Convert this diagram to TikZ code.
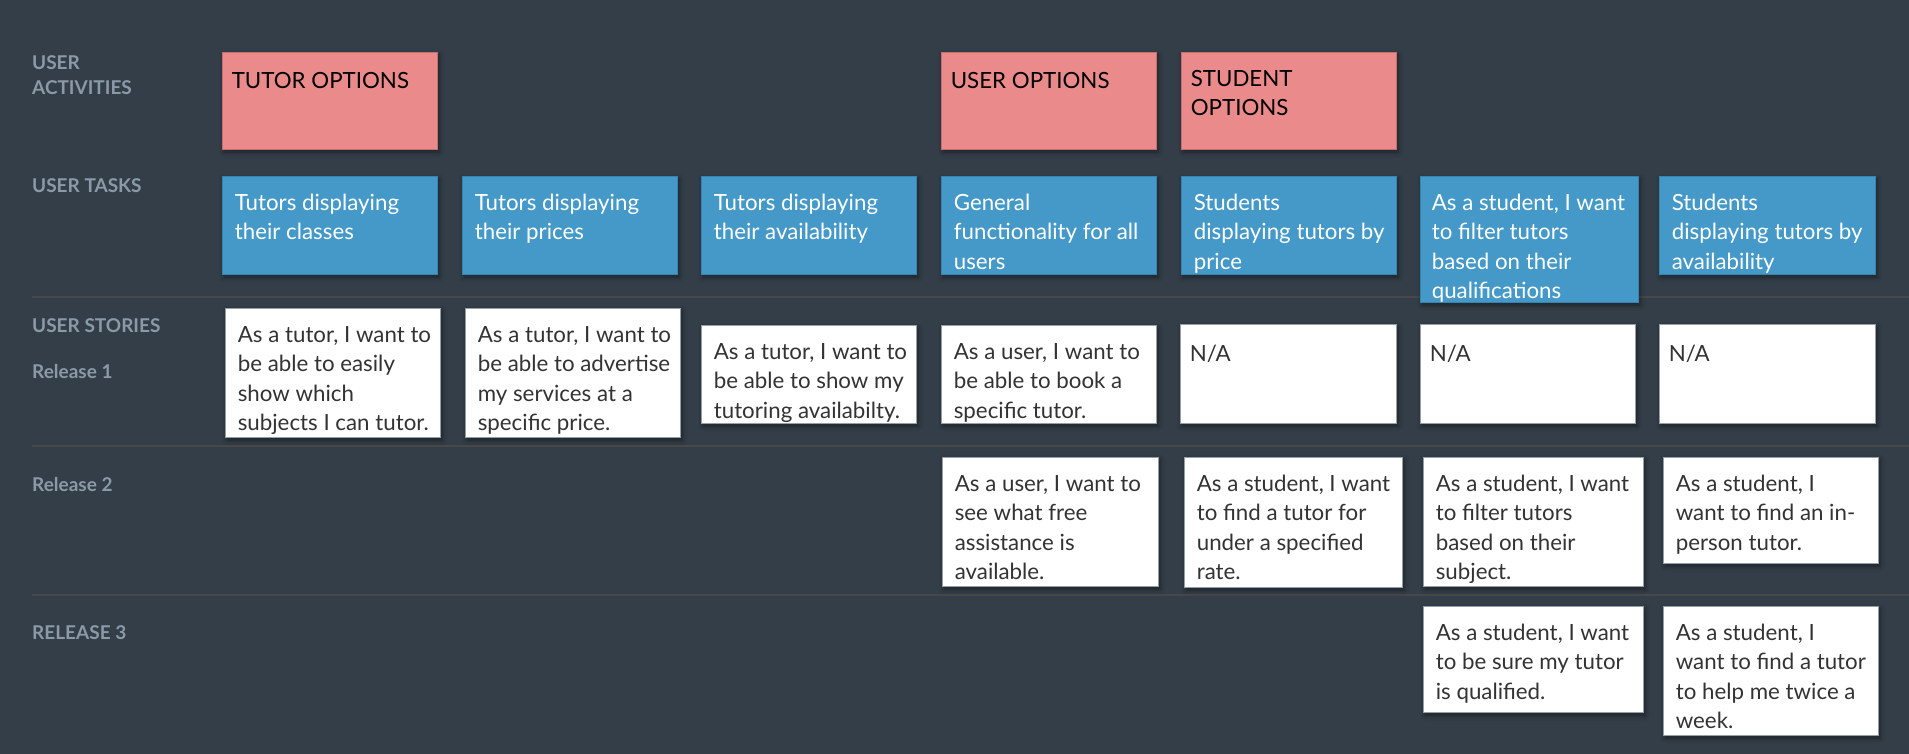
\documentclass[tikz,border=0pt]{standalone}
\usepackage{fontspec}
\setmainfont{Lato}
\usetikzlibrary{fit,shadows.blur}

\definecolor{boardbg}{RGB}{52,62,72}
\definecolor{rowline}{RGB}{74,71,71}
\definecolor{lanelabel}{RGB}{139,154,167}
\definecolor{activity}{RGB}{234,138,138}
\definecolor{activityedge}{RGB}{196,110,112}
\definecolor{task}{RGB}{68,153,201}
\definecolor{taskedge}{RGB}{56,132,176}
\definecolor{storyedge}{RGB}{150,158,166}
\definecolor{storytext}{RGB}{51,51,51}

\tikzset{
  x=1pt, y=-1pt,
  card/.style={rectangle, inner sep=0pt, line width=0.8pt,
    blur shadow={shadow xshift=2pt, shadow yshift=-3pt,
      shadow blur radius=5pt, shadow opacity=45}},
  activitycard/.style={card, fill=activity, draw=activityedge},
  taskcard/.style={card, fill=task, draw=taskedge},
  storycard/.style={card, fill=white, draw=storyedge},
  cardtext/.style={anchor=base west, inner sep=0pt,
    font=\fontsize{22.3}{29.3}\selectfont},
  lanetitle/.style={anchor=base west, inner sep=0pt,
    text=lanelabel, font=\fontsize{19}{25}\selectfont\bfseries},
  divider/.style={draw=rowline, line width=2.6pt},
}

% lines of text hanging from the baseline of the first one
\newcommand\textlines[1]{\begin{tabular}[t]{@{}l@{}}#1\end{tabular}}

% card: style, name, top-left, bottom-right, left pad, first baseline, text colour, text
\newcommand\mapcard[8]{%
  \node[#1, fit={#3 #4}] (#2) {};
  \node[cardtext, text=#7] (#2-txt) at ([shift={(#5,#6)}]#2.north west) {\textlines{#8}};
}

\begin{document}
\begin{tikzpicture}
\useasboundingbox (0,0) rectangle (1909,754);
\fill[boardbg] (0,0) rectangle (1909,754);

% release lanes
\coordinate (l1a) at (32,297);  \coordinate (l1b) at (1909,297);
\coordinate (l2a) at (32,446);  \coordinate (l2b) at (1909,446);
\coordinate (l3a) at (32,595);  \coordinate (l3b) at (1909,595);
\draw[divider] (l1a) -- (l1b);
\draw[divider] (l2a) -- (l2b);
\draw[divider] (l3a) -- (l3b);

% lane titles
\node[lanetitle] (tAct)  at (32,70)  {\textlines{USER\\ACTIVITIES}};
\node[lanetitle] (tTask) at (32,193) {USER TASKS};
\node[lanetitle] (tStor) at (32,332) {USER STORIES};
\node[lanetitle] (tRel1) at (32,378) {Release 1};
\node[lanetitle] (tRel2) at (32,491) {Release 2};
\node[lanetitle] (tRel3) at (32,639) {RELEASE 3};

% user activities
\mapcard{activitycard}{a1}{(222,52)}{(437,149)}{10}{37}{black}{TUTOR OPTIONS}
\mapcard{activitycard}{a4}{(941,52)}{(1156,149)}{10}{37}{black}{USER OPTIONS}
\mapcard{activitycard}{a5}{(1181,52)}{(1396,149)}{10}{35}{black}{STUDENT\\OPTIONS}

% user tasks
\mapcard{taskcard}{t1}{(222,176)}{(437,274)}{13}{35}{white}{Tutors displaying\\their classes}
\mapcard{taskcard}{t2}{(462,176)}{(677,274)}{13}{35}{white}{Tutors displaying\\their prices}
\mapcard{taskcard}{t3}{(701,176)}{(916,274)}{13}{35}{white}{Tutors displaying\\their availability}
\mapcard{taskcard}{t4}{(941,176)}{(1156,274)}{13}{35}{white}{General\\functionality for all\\users}
\mapcard{taskcard}{t5}{(1181,176)}{(1396,274)}{13}{35}{white}{Students\\displaying tutors by\\price}
\mapcard{taskcard}{t6}{(1420,176)}{(1638,302)}{12}{35}{white}{As a student, I want\\to filter tutors\\based on their\\qualifications}
\mapcard{taskcard}{t7}{(1659,176)}{(1875,274)}{13}{35}{white}{Students\\displaying tutors by\\availability}

% release 1
\mapcard{storycard}{r1c1}{(225,308)}{(440,437)}{13}{35}{storytext}{As a tutor, I want to\\be able to easily\\show which\\subjects I can tutor.}
\mapcard{storycard}{r1c2}{(465,308)}{(680,437)}{13}{35}{storytext}{As a tutor, I want to\\be able to advertise\\my services at a\\specific price.}
\mapcard{storycard}{r1c3}{(701,325)}{(916,423)}{13}{35}{storytext}{As a tutor, I want to\\be able to show my\\tutoring availabilty.}
\mapcard{storycard}{r1c4}{(941,325)}{(1156,423)}{13}{35}{storytext}{As a user, I want to\\be able to book a\\specific tutor.}
\mapcard{storycard}{r1c5}{(1180,324)}{(1396,423)}{10}{38}{storytext}{N/A}
\mapcard{storycard}{r1c6}{(1420,324)}{(1635,423)}{10}{38}{storytext}{N/A}
\mapcard{storycard}{r1c7}{(1659,324)}{(1875,423)}{10}{38}{storytext}{N/A}

% release 2
\mapcard{storycard}{r2c4}{(942,457)}{(1158,586)}{13}{35}{storytext}{As a user, I want to\\see what free\\assistance is\\available.}
\mapcard{storycard}{r2c5}{(1184,457)}{(1402,587)}{13}{35}{storytext}{As a student, I want\\to find a tutor for\\under a specified\\rate.}
\mapcard{storycard}{r2c6}{(1423,457)}{(1643,586)}{13}{35}{storytext}{As a student, I want\\to filter tutors\\based on their\\subject.}
\mapcard{storycard}{r2c7}{(1663,457)}{(1878,563)}{13}{35}{storytext}{As a student, I\\want to find an in-\\person tutor.}

% release 3
\mapcard{storycard}{r3c6}{(1423,606)}{(1643,712)}{13}{35}{storytext}{As a student, I want\\to be sure my tutor\\is qualified.}
\mapcard{storycard}{r3c7}{(1663,606)}{(1878,735)}{13}{35}{storytext}{As a student, I\\want to find a tutor\\to help me twice a\\week.}
\end{tikzpicture}
\end{document}
